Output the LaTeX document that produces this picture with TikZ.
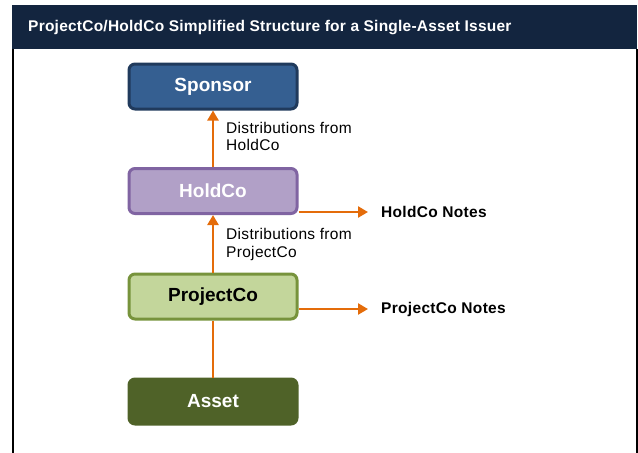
\documentclass[tikz,border=0pt]{standalone}
\usepackage{fontspec}
\setmainfont{Liberation Sans}
\usetikzlibrary{arrows.meta}
\definecolor{navy}{HTML}{13253F}
\definecolor{spfill}{HTML}{355F91}
\definecolor{spdraw}{HTML}{203A5C}
\definecolor{hcfill}{HTML}{B1A0C7}
\definecolor{hcdraw}{HTML}{8064A2}
\definecolor{pcfill}{HTML}{C3D69B}
\definecolor{pcdraw}{HTML}{77933C}
\definecolor{asfill}{HTML}{4F6228}
\definecolor{orng}{HTML}{E46C0A}
\tikzset{
  entity/.style={rounded corners=6pt, line width=3pt, minimum width=168pt, minimum height=45pt,
    font=\fontsize{19}{21}\selectfont\bfseries, inner sep=0pt},
  arr/.style={draw=orng, line width=2.8pt, -{Triangle[length=10pt,width=11pt]}},
  plainln/.style={draw=orng, line width=2.8pt},
  lbl/.style={align=left, anchor=north west, inner sep=0pt, font=\fontsize{15.5}{17.5}\selectfont\addfontfeature{LetterSpace=2}},
  notes/.style={anchor=west, inner sep=0pt, font=\fontsize{15.5}{17}\selectfont\bfseries\addfontfeature{LetterSpace=2}},
}
\begin{document}
\begin{tikzpicture}[x=1pt,y=-1pt]
\useasboundingbox (0,0) rectangle (638,453);
\fill[navy] (12,5) rectangle (637,49);
\node[anchor=west, text=white, font=\fontsize{15.5}{17}\selectfont\bfseries\addfontfeature{LetterSpace=1.5}, inner sep=0pt] (title) at (28,27.5) {ProjectCo/HoldCo Simplified Structure for a Single-Asset Issuer};
\draw[line width=2pt] (13,49) -- (13,453);
\draw[line width=2pt] (636.5,49) -- (636.5,453);

\node[entity, fill=spfill, draw=spdraw, text=white] (sp) at (213,86.5) {Sponsor};
\node[entity, fill=hcfill, draw=hcdraw, text=white] (hc) at (213,191) {HoldCo};
\node[entity, fill=pcfill, draw=pcdraw, text=black] (pc) at (213,296.5) {ProjectCo};
\node[entity, fill=asfill, draw=asfill, text=white] (as) at (213,401.5) {Asset};

\draw[arr] (hc.north) -- (sp.south);
\draw[arr] (pc.north) -- (hc.south);
\draw[plainln] (as.north) -- (pc.south);

\node[lbl] (l1) at (226,122) {Distributions from\\HoldCo};
\node[lbl] (l2) at (226,228.5) {Distributions from\\ProjectCo};

\node[notes] (hn) at (381,212) {HoldCo Notes};
\node[notes] (pn) at (381,309) {ProjectCo Notes};
\draw[arr, shorten >=13pt] (hc.east |- hn) -- (hn.west);
\draw[arr, shorten >=13pt] (pc.east |- pn) -- (pn.west);
\end{tikzpicture}
\end{document}
